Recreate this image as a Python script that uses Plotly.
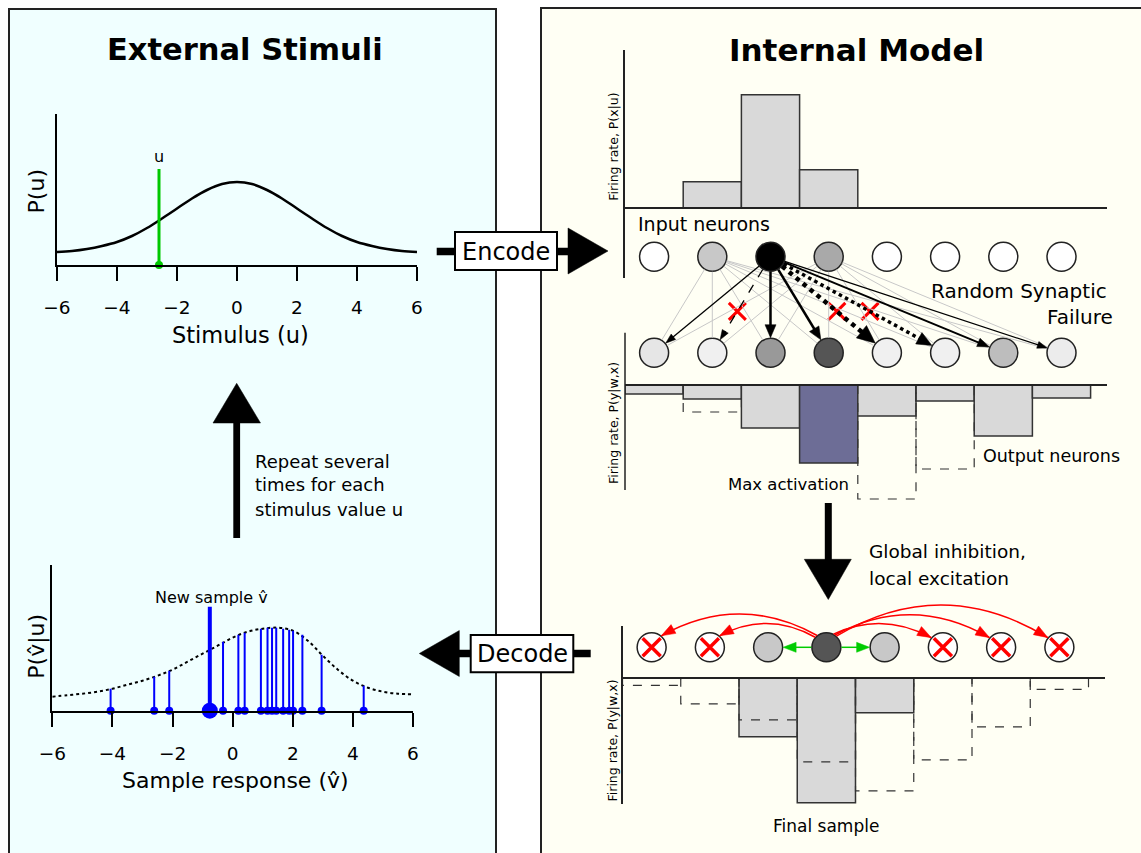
import math
import plotly.graph_objects as go

W, H = 1141, 853
FONT = "DejaVu Sans"

# ---------------- data ----------------
grid_u = [-6.0, -5.5, -5.0, -4.5, -4.0, -3.5, -3.0, -2.5, -2.0, -1.5, -1.0, -0.5, 0.0,
          0.5, 1.0, 1.5, 2.0, 2.5, 3.0, 3.5, 4.0, 4.5, 5.0, 5.5, 6.0]
stim_p = [13, 14, 16, 19, 23, 29, 37, 46.5, 56.5, 66.5, 75, 81, 83,
          81, 75, 66.5, 56.5, 46.5, 37, 29, 23, 19, 16, 14, 13]
u_value = -2.6
u_level = 96

resp_p = [14, 15.5, 17, 19, 22, 26, 30, 35, 41, 49, 57, 65, 73,
          79, 82, 83, 80, 70, 55, 41, 30, 23, 19, 17, 16.5]
sample_v = [-4.06, -2.61, -2.11, -0.32, 0.19, 0.40, 0.94, 1.16, 1.31, 1.45,
            1.68, 1.88, 2.01, 2.32, 2.96, 4.36]
sample_h = [22, 34, 40, 69, 76, 78, 82, 83, 83, 83, 82, 81, 80, 76, 56, 25]
new_v = -0.76
new_h = 104
tick_vals = [-6, -4, -2, 0, 2, 4, 6]

neuron_idx = [0, 1, 2, 3, 4, 5, 6, 7]
input_rate = [0, 26, 113, 38, 0, 0, 0, 0]
input_shade = ["#ffffff", "#c8c8c8", "#000000", "#a9a9a9", "#ffffff", "#ffffff", "#ffffff", "#ffffff"]
active_input = 2
partial_inputs = [1, 3]
output_rate = [9, 14, 43, 78, 31, 16, 51, 13]
output_prev = [0, 27, 0, 0, 114, 84, 0, 0]
output_shade = ["#e6e6e6", "#f0f0f0", "#999999", "#555555", "#f0f0f0", "#f0f0f0", "#bdbdbd", "#ececec"]
max_idx = 3
failed_synapses = [1, 4, 5]
final_rate = [0, 0, 59, 125, 35, 0, 0, 0]
final_prev = [7.6, 26, 42, 84, 113, 82, 49, 11.6]
final_shade = ["#ffffff", "#ffffff", "#c8c8c8", "#555555", "#c8c8c8", "#ffffff", "#ffffff", "#ffffff"]
winner = 3
excited = [2, 4]
inhibited = [0, 1, 5, 6, 7]

# ---------------- layout geometry (pixels) ----------------
G_X0, G_X1, G_BASE, G_TOP = 57, 417, 265, 114
S_X0, S_X1, S_BASE, S_TOP = 52.3, 413, 710.7, 565
C_X0, C_BW, C_XEND = 625, 58.2, 1107
T_BASE, T_TOP, T_BOT = 207.7, 50, 278.3
IN_Y = 256.7
M_BASE, M_TOP, M_BOT, M_SPINE_BOT = 385, 332.7, 505, 490
OUT_Y = 352.7
B_X0, B_BW, B_XEND = 622.5, 58.25, 1105
B_BASE, B_TOP, B_BOT = 677.8, 625.8, 804
FIN_Y = 647.3
R = 15


def fx(p):
    return p / W


def fy(p):
    return 1 - p / H


def col_px(k, x0=C_X0, bw=C_BW):
    return x0 + (k + 0.5) * bw


fig = go.Figure()
shapes = []
ann = []

# ---------------- panels ----------------
shapes.append(dict(type="rect", xref="paper", yref="paper", x0=fx(9), x1=fx(496), y0=-0.02, y1=fy(9),
                   fillcolor="#f0ffff", line=dict(color="#222", width=2), layer="below"))
shapes.append(dict(type="rect", xref="paper", yref="paper", x0=fx(541), x1=1.02, y0=-0.02, y1=fy(8),
                   fillcolor="#fffff4", line=dict(color="#222", width=2), layer="below"))

# ---------------- stimulus plot ----------------
fig.add_trace(go.Scatter(x=grid_u, y=stim_p, mode="lines", line=dict(color="black", width=2.5, shape="spline"),
                         xaxis="x", yaxis="y", showlegend=False, hoverinfo="skip"))
fig.add_trace(go.Scatter(x=[u_value, u_value], y=[0, u_level], mode="lines", line=dict(color="#00c800", width=3),
                         xaxis="x", yaxis="y", showlegend=False, hoverinfo="skip"))
fig.add_trace(go.Scatter(x=[u_value], y=[0], mode="markers", marker=dict(color="#00c800", size=8),
                         xaxis="x", yaxis="y", showlegend=False, cliponaxis=False, hoverinfo="skip"))

# ---------------- response (stem) plot ----------------
fig.add_trace(go.Scatter(x=grid_u, y=resp_p, mode="lines",
                         line=dict(color="black", width=2, dash="dot", shape="spline"),
                         xaxis="x2", yaxis="y2", showlegend=False, hoverinfo="skip"))
sx, sy = [], []
for v, h in zip(sample_v, sample_h):
    sx += [v, v, None]
    sy += [0, h, None]
fig.add_trace(go.Scatter(x=sx, y=sy, mode="lines", line=dict(color="#0000ff", width=2),
                         xaxis="x2", yaxis="y2", showlegend=False, hoverinfo="skip"))
fig.add_trace(go.Scatter(x=sample_v, y=[0] * len(sample_v), mode="markers",
                         marker=dict(color="#0000ff", size=8), cliponaxis=False,
                         xaxis="x2", yaxis="y2", showlegend=False, hoverinfo="skip"))
fig.add_trace(go.Scatter(x=[new_v, new_v], y=[0, new_h], mode="lines", line=dict(color="#0000ff", width=4),
                         xaxis="x2", yaxis="y2", showlegend=False, hoverinfo="skip"))
fig.add_trace(go.Scatter(x=[new_v], y=[0], mode="markers", marker=dict(color="#0000ff", size=16),
                         cliponaxis=False, xaxis="x2", yaxis="y2", showlegend=False, hoverinfo="skip"))


# ---------------- right column histograms ----------------
def bars(rates, sign, ax, ay, colors):
    xs = [k for k, r in zip(neuron_idx, rates) if r > 0]
    ys = [sign * r for r in rates if r > 0]
    cs = [c for c, r in zip(colors, rates) if r > 0]
    fig.add_trace(go.Bar(x=xs, y=ys, width=1.0, marker=dict(color=cs, line=dict(color="#333", width=1.5)),
                         xaxis=ax, yaxis=ay, showlegend=False, hoverinfo="skip"))


def ghost(rates, sign, ax, ay):
    gx, gy = [], []
    for k, r in zip(neuron_idx, rates):
        if r > 0:
            gx += [k - 0.5, k - 0.5, k + 0.5, k + 0.5, None]
            gy += [0, sign * r, sign * r, 0, None]
    fig.add_trace(go.Scatter(x=gx, y=gy, mode="lines", line=dict(color="#333", width=1.2, dash="dash"),
                             xaxis=ax, yaxis=ay, showlegend=False, hoverinfo="skip", cliponaxis=False))


def neurons(shades, yval, ax, ay):
    fig.add_trace(go.Scatter(x=neuron_idx, y=[yval] * len(neuron_idx), mode="markers",
                             marker=dict(size=29, color=shades, line=dict(color="#222", width=1.5)),
                             xaxis=ax, yaxis=ay, showlegend=False, hoverinfo="skip", cliponaxis=False))


bars(input_rate, 1, "x3", "y3", ["#d9d9d9"] * 8)
neurons(input_shade, T_BASE - IN_Y, "x3", "y3")

out_cols = ["#6d6d96" if k == max_idx else "#d9d9d9" for k in neuron_idx]
bars(output_rate, -1, "x4", "y4", out_cols)
ghost(output_prev, -1, "x4", "y4")
neurons(output_shade, M_BASE - OUT_Y, "x4", "y4")

bars(final_rate, -1, "x5", "y5", ["#d9d9d9"] * 8)
ghost(final_prev, -1, "x5", "y5")
neurons(final_shade, B_BASE - FIN_Y, "x5", "y5")
fig.add_trace(go.Scatter(x=inhibited, y=[B_BASE - FIN_Y] * len(inhibited), mode="markers",
                         marker=dict(symbol="x-thin", size=18, line=dict(color="#ff0000", width=3.5)),
                         xaxis="x5", yaxis="y5", showlegend=False, hoverinfo="skip", cliponaxis=False))


# ---------------- connections (pixel overlay) ----------------
def tri(tip, frm, L, Wd):
    dx, dy = tip[0] - frm[0], tip[1] - frm[1]
    n = math.hypot(dx, dy)
    ux, uy = dx / n, dy / n
    bx, by = tip[0] - ux * L, tip[1] - uy * L
    nx, ny = -uy, ux
    return (f"M {tip[0]:.2f},{tip[1]:.2f} L {bx + nx * Wd / 2:.2f},{by + ny * Wd / 2:.2f} "
            f"L {bx - nx * Wd / 2:.2f},{by - ny * Wd / 2:.2f} Z")


def pshape(path, color):
    shapes.append(dict(type="path", path=path, xref="x6", yref="y6", fillcolor=color,
                       line=dict(color=color, width=0.5)))


def lshape(p0, p1, color, width, dash="solid"):
    shapes.append(dict(type="line", x0=p0[0], y0=p0[1], x1=p1[0], y1=p1[1], xref="x6", yref="y6",
                       line=dict(color=color, width=width, dash=dash)))


def edge(src, dst):
    dx, dy = dst[0] - src[0], dst[1] - src[1]
    n = math.hypot(dx, dy)
    ux, uy = dx / n, dy / n
    return (src[0] + ux * R, src[1] + uy * R), (dst[0] - ux * R, dst[1] - uy * R), (ux, uy)


for i in partial_inputs:
    for k in neuron_idx:
        a, b, _ = edge((col_px(i), IN_Y), (col_px(k), OUT_Y))
        lshape(a, b, "#c8c8c8", 1)

arrow_style = [("solid", 1.3, 10, 7), ("dash", 1.3, 10, 7), ("solid", 2.5, 13, 11), ("solid", 2.5, 13, 11),
               ("dot", 4.5, 18, 16), ("dot", 3.5, 15, 13), ("solid", 2.0, 12, 9), ("solid", 1.3, 10, 7)]
fail_x, fail_y = [], []
src = (col_px(active_input), IN_Y)
for k in neuron_idx:
    dash, lw, L, Wd = arrow_style[k]
    dst = (col_px(k), OUT_Y)
    a, b, (ux, uy) = edge(src, dst)
    lshape(a, (b[0] - ux * L * 0.8, b[1] - uy * L * 0.8), "black", lw, dash)
    pshape(tri(b, a, L, Wd), "black")
    if k in failed_synapses:
        t = 0.57
        fail_x.append(src[0] + (dst[0] - src[0]) * t)
        fail_y.append(src[1] + (dst[1] - src[1]) * t)
fig.add_trace(go.Scatter(x=fail_x, y=fail_y, mode="markers",
                         marker=dict(symbol="x-thin", size=17, line=dict(color="#ff0000", width=3)),
                         xaxis="x6", yaxis="y6", showlegend=False, hoverinfo="skip", cliponaxis=False))

# inhibition arcs / excitation arrows in the bottom row
arc_peak = {0: 614, 1: 623.5, 5: 623.5, 6: 614.8, 7: 605}
arc_start = {0: 128, 1: 138, 5: 62, 6: 55, 7: 48}
cx, cy = col_px(winner, B_X0, B_BW), FIN_Y
for k in inhibited:
    tx = col_px(k, B_X0, B_BW)
    th = math.radians(arc_start[k])
    p0 = (cx + R * math.cos(th), cy - R * math.sin(th))
    ea = math.radians(50 if k < winner else 140)
    p2 = (tx + R * math.cos(ea), cy - R * math.sin(ea))
    ctrl = ((p0[0] + p2[0]) / 2, 2 * arc_peak[k] - (p0[1] + p2[1]) / 2)
    shapes.append(dict(type="path", xref="x6", yref="y6",
                       path=f"M {p0[0]:.2f},{p0[1]:.2f} Q {ctrl[0]:.2f},{ctrl[1]:.2f} {p2[0]:.2f},{p2[1]:.2f}",
                       line=dict(color="#ff0000", width=1.5)))
    pshape(tri(p2, ctrl, 14, 10), "#ff0000")
for k in excited:
    tx = col_px(k, B_X0, B_BW)
    s = 1 if tx > cx else -1
    p0 = (cx + s * R, cy)
    p1 = (tx - s * R, cy)
    lshape(p0, (p1[0] - s * 8, p1[1]), "#00cc00", 1.5)
    pshape(tri(p1, p0, 13, 10), "#00cc00")

# ---------------- big flow arrows & boxes ----------------
def rect(x0, y0, x1, y1, fill, lc=None, lw=0):
    shapes.append(dict(type="rect", xref="x6", yref="y6", x0=x0, y0=y0, x1=x1, y1=y1, fillcolor=fill,
                       line=dict(color=lc or fill, width=lw)))


def poly(pts, color="black"):
    path = "M " + " L ".join(f"{x},{y}" for x, y in pts) + " Z"
    shapes.append(dict(type="path", xref="x6", yref="y6", path=path, fillcolor=color,
                       line=dict(color=color, width=0.5)))


# encode
rect(436.7, 247.8, 570, 255.2, "black")
rect(455, 232, 557, 270, "white", "black", 2)
poly([(568, 228), (568, 274), (608, 251)])
# decode
rect(455, 649.7, 590.7, 657.3, "black")
rect(470.7, 635, 573.3, 672.3, "white", "black", 2)
poly([(459.3, 630.5), (459.3, 676.5), (419.3, 653.5)])
# down arrow
rect(824.8, 503, 831.8, 561, "black")
poly([(804.3, 559.3), (851.3, 559.3), (828.3, 599.5)])
# up arrow
rect(233.3, 421, 240.1, 538, "black")
poly([(213, 423), (260.5, 423), (236.7, 383.3)])
# middle histogram spine
lshape((C_X0, M_TOP), (C_X0, M_SPINE_BOT), "#222", 1.5)


# ---------------- text ----------------
def text(s, x, y, size, xanchor="center", bold=False, angle=0, align="center", color="black"):
    ann.append(dict(text=f"<b>{s}</b>" if bold else s, x=fx(x), y=fy(y), xref="paper", yref="paper",
                    showarrow=False, xanchor=xanchor, yanchor="middle", textangle=angle, align=align,
                    font=dict(family=FONT, size=size, color=color)))


text("External Stimuli", 245, 50, 30.5, bold=True)
text("Internal Model", 856, 50, 31, bold=True)
text("P(u)", 36.7, 191.7, 22, angle=-90)
text("Stimulus (u)", 240, 335, 22.5)
text("P(v\u0302|u)", 37, 646.7, 22, angle=-90)
text("Sample response (v\u0302)", 235, 780, 22)
text("Repeat several", 253, 461, 18, xanchor="left")
text("times for each", 253, 485, 18, xanchor="left")
text("stimulus value u", 253, 509, 18, xanchor="left")
text("Encode", 506, 251.5, 24)
text("Decode", 522, 653.8, 24)
text("Firing rate, P(x|u)", 614, 146.7, 12.5, angle=-90)
text("Input neurons", 635.6, 224.3, 19, xanchor="left")
text("Random Synaptic", 1109, 290.7, 20, xanchor="right")
text("Failure", 1115, 316.7, 20, xanchor="right")
text("Firing rate, P(y|w,x)", 614, 423, 12.5, angle=-90)
text("Max activation", 851, 485, 16.5, xanchor="right")
text("Output neurons", 981, 456, 17.5, xanchor="left")
text("Global inhibition,", 867, 551, 18.5, xanchor="left")
text("local excitation", 867, 578, 18.5, xanchor="left")
text("Firing rate, P(y|w,x)", 611.5, 741, 12.5, angle=-90)
text("Final sample", 826.3, 826, 17)
ann.append(dict(text="u", x=u_value, y=fy(157), xref="x", yref="paper", showarrow=False,
                xanchor="center", yanchor="middle", font=dict(family=FONT, size=16, color="black")))
ann.append(dict(text="New sample v\u0302", x=new_v, xshift=2, y=fy(597), xref="x2", yref="paper",
                xanchor="center", yanchor="middle", showarrow=False,
                font=dict(family=FONT, size=16, color="black")))

# ---------------- axes ----------------
tick_axis = dict(showline=True, linecolor="black", linewidth=2, ticks="outside", ticklen=14, tickwidth=2,
                 tickcolor="black", tickvals=tick_vals, range=[-6, 6], showgrid=False, zeroline=False,
                 tickfont=dict(family=FONT, size=18.5, color="black"), ticklabelstandoff=11, fixedrange=True,
                 automargin=False)
plain_y = dict(showline=True, linecolor="black", linewidth=2, ticks="", showticklabels=False,
               showgrid=False, zeroline=False, fixedrange=True, automargin=False)
hist_x = dict(showline=True, linecolor="#222", linewidth=1.5, ticks="", showticklabels=False,
              showgrid=False, zeroline=False, anchor="free", fixedrange=True, automargin=False)
hist_y = dict(showline=True, linecolor="#222", linewidth=1.5, ticks="", showticklabels=False,
              showgrid=False, zeroline=False, fixedrange=True, automargin=False)

fig.update_layout(
    width=W, height=H, margin=dict(l=0, r=0, t=0, b=0, pad=0), autosize=False,
    paper_bgcolor="white", plot_bgcolor="rgba(0,0,0,0)",
    font=dict(family=FONT, color="black"), showlegend=False, barmode="overlay",
    xaxis=dict(tick_axis, domain=[fx(G_X0), fx(G_X1)], anchor="y"),
    yaxis=dict(plain_y, domain=[fy(G_BASE), fy(G_TOP)], range=[0, G_BASE - G_TOP], anchor="x"),
    xaxis2=dict(tick_axis, domain=[fx(S_X0), fx(S_X1)], anchor="y2"),
    yaxis2=dict(plain_y, domain=[fy(S_BASE), fy(S_TOP)], range=[0, S_BASE - S_TOP], anchor="x2"),
    xaxis3=dict(hist_x, domain=[fx(C_X0), fx(C_XEND)], range=[-0.5, -0.5 + (C_XEND - C_X0) / C_BW],
                position=fy(T_BASE)),
    yaxis3=dict(hist_y, domain=[fy(T_BOT), fy(T_TOP)], range=[-(T_BOT - T_BASE), T_BASE - T_TOP], anchor="x3"),
    xaxis4=dict(hist_x, domain=[fx(C_X0), fx(C_XEND)], range=[-0.5, -0.5 + (C_XEND - C_X0) / C_BW],
                position=fy(M_BASE)),
    yaxis4=dict(hist_y, showline=False, domain=[fy(M_BOT), fy(M_TOP)], range=[-(M_BOT - M_BASE), M_BASE - M_TOP],
                anchor="x4"),
    xaxis5=dict(hist_x, domain=[fx(B_X0), fx(B_XEND)], range=[-0.5, -0.5 + (B_XEND - B_X0) / B_BW],
                position=fy(B_BASE)),
    yaxis5=dict(hist_y, domain=[fy(B_BOT), fy(B_TOP)], range=[-(B_BOT - B_BASE), B_BASE - B_TOP], anchor="x5"),
    xaxis6=dict(domain=[0, 1], range=[0, W], visible=False, anchor="y6", fixedrange=True, automargin=False),
    yaxis6=dict(domain=[0, 1], range=[H, 0], visible=False, anchor="x6", fixedrange=True, automargin=False),
    shapes=shapes, annotations=ann,
)

fig.write_html("out.html")
